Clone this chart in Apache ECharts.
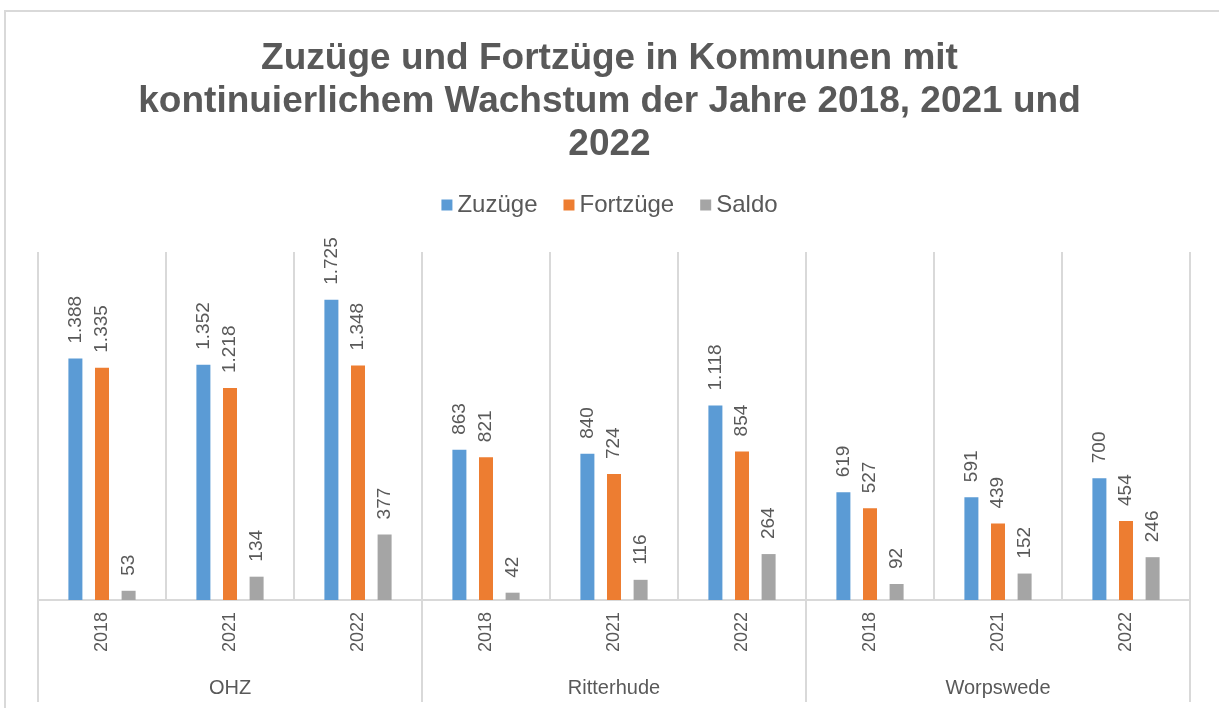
<!DOCTYPE html>
<html>
<head>
<meta charset="utf-8">
<script src="https://cdn.jsdelivr.net/npm/echarts@6/dist/echarts.min.js"></script>
<style>
  html, body { margin: 0; padding: 0; background: #fff; }
  #container { width: 1219px; height: 708px; }
</style>
</head>
<body>
<div id="container"></div>
<script>
// Daten
var jahre = ['2018', '2021', '2022', '2018', '2021', '2022', '2018', '2021', '2022'];
var kommunen = ['OHZ', 'Ritterhude', 'Worpswede'];
var zuzuege = [1388, 1352, 1725, 863, 840, 1118, 619, 591, 700];
var fortzuege = [1335, 1218, 1348, 821, 724, 854, 527, 439, 454];
var saldo = [53, 134, 377, 42, 116, 264, 92, 152, 246];

// Tausenderpunkt wie im Original
function fmt(v) {
    return String(v).replace(/\B(?=(\d{3})+(?!\d))/g, '.');
}

var textColor = '#595959';
var lineColor = '#d9d9d9';
var font = 'Liberation Sans, Arial, sans-serif';

var dom = document.getElementById('container');
var myChart = echarts.init(dom);

var labelStyle = {
    show: true,
    position: 'top',
    rotate: 90,
    align: 'left',
    verticalAlign: 'middle',
    distance: 15,
    color: textColor,
    fontFamily: font,
    fontSize: 19,
    formatter: function (p) { return fmt(p.value); }
};

var option = {
    animation: false,
    textStyle: { fontFamily: font },
    graphic: [{
        type: 'rect',
        shape: { x: 5, y: 11, width: 1230, height: 720 },
        style: { fill: 'none', stroke: lineColor, lineWidth: 2 }
    }],
    title: {
        text: 'Zuzüge und Fortzüge in Kommunen mit\nkontinuierlichem Wachstum der Jahre 2018, 2021 und\n2022',
        left: 'center',
        top: 32,
        textStyle: {
            color: textColor,
            fontSize: 37,
            fontWeight: 'bold',
            lineHeight: 43,
            fontFamily: font
        }
    },
    legend: {
        top: 188,
        left: 'center',
        itemWidth: 11,
        itemHeight: 11,
        itemGap: 26,
        icon: 'rect',
        textStyle: { color: textColor, fontSize: 24 }
    },
    color: ['#5b9bd5', '#ed7d31', '#a5a5a5'],
    grid: { left: 38, right: 29, top: 252, bottom: 108 },
    xAxis: [
        {
            type: 'category',
            data: jahre,
            position: 'bottom',
            axisLine: { show: true, lineStyle: { color: lineColor, width: 2 } },
            axisTick: { show: false },
            splitLine: { show: true, lineStyle: { color: lineColor, width: 2 } },
            axisLabel: { rotate: 90, margin: 12, color: textColor, fontSize: 18 }
        },
        {
            type: 'category',
            data: kommunen,
            position: 'bottom',
            axisLine: { show: false },
            axisTick: { show: true, length: 102, lineStyle: { color: lineColor, width: 2 } },
            axisLabel: { margin: 78, color: textColor, fontSize: 20 }
        }
    ],
    yAxis: {
        type: 'value',
        min: 0,
        max: 2000,
        show: false,
        splitLine: { show: false }
    },
    series: [
        {
            name: 'Zuzüge',
            type: 'bar',
            data: zuzuege,
            barWidth: 14,
            barGap: '90%',
            label: labelStyle
        },
        {
            name: 'Fortzüge',
            type: 'bar',
            data: fortzuege,
            barWidth: 14,
            barGap: '90%',
            label: labelStyle
        },
        {
            name: 'Saldo',
            type: 'bar',
            data: saldo,
            barWidth: 14,
            barGap: '90%',
            label: labelStyle
        }
    ]
};

myChart.setOption(option);
window.addEventListener('resize', myChart.resize);
</script>
</body>
</html>
